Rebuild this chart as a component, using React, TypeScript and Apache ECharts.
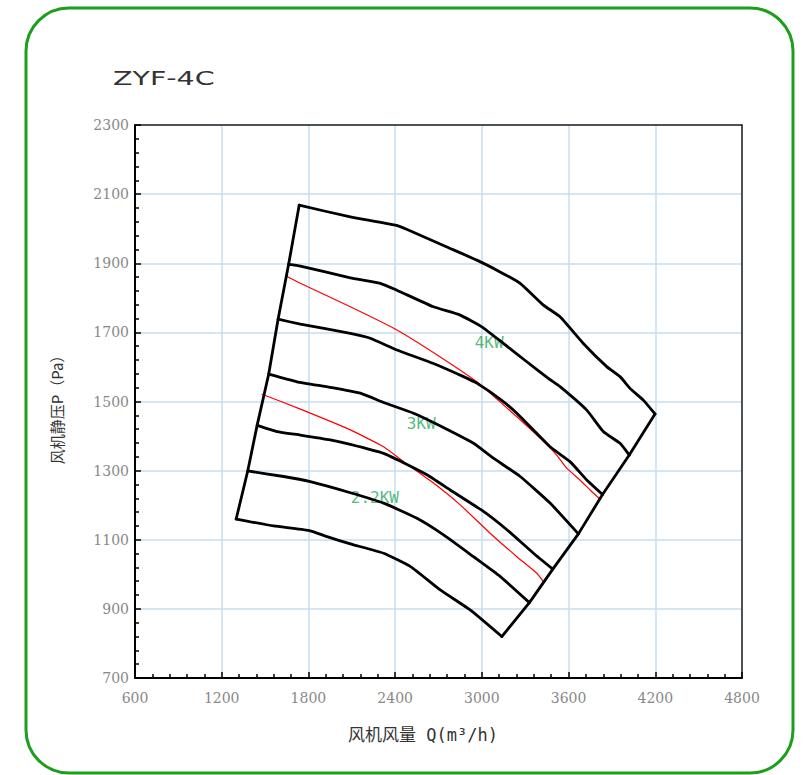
import React, { useEffect, useRef } from 'react';
import * as echarts from 'echarts';

// Axis ranges / ticks
const xMin = 600;
const xMax = 4800;
const xStep = 600;
const yMin = 700;
const yMax = 2300;
const yStep = 200;

// Black fan curves [Q (m3/h), P (Pa)], top to bottom
const curveA = [[1736,2068],[2090,2034],[2401,2010],[2491,1996],[2758,1947],[2965,1909],[3126,1875],[3265,1842],[3426,1779],[3541,1745],[3702,1668],[3864,1601],[3956,1572],[4025,1538],[4117,1504],[4198,1464]];
const curveB = [[1663,1897],[1744,1892],[2090,1858],[2297,1842],[2412,1822],[2665,1774],[2850,1750],[3000,1716],[3149,1668],[3311,1615],[3460,1567],[3541,1543],[3726,1475],[3840,1413],[3956,1379],[4020,1345]];
const curveC = [[1590,1738],[1744,1724],[2090,1697],[2228,1683],[2412,1649],[2665,1610],[2873,1572],[2965,1553],[3126,1507],[3242,1466],[3472,1369],[3610,1326],[3726,1273],[3835,1231]];
const curveD = [[1525,1579],[1721,1557],[1951,1541],[2159,1524],[2320,1497],[2527,1466],[2689,1434],[2942,1379],[3080,1336],[3265,1283],[3472,1206],[3668,1117]];
const curveE = [[1445,1431],[1583,1413],[1744,1403],[1951,1389],[2090,1376],[2320,1350],[2458,1323],[2620,1288],[2781,1244],[3011,1182],[3173,1129],[3357,1061],[3491,1015]];
const curveF = [[1380,1299],[1629,1283],[1813,1268],[2090,1236],[2320,1206],[2551,1162],[2735,1114],[2942,1051],[3126,994],[3329,918]];
const curveG = [[1300,1160],[1559,1140],[1801,1127],[1929,1109],[2090,1088],[2320,1061],[2504,1023],[2712,955],[2919,897],[3138,820]];

// Red motor power curves
const red4kw = [[1645,1863],[1744,1842],[2090,1774],[2412,1707],[2712,1629],[2965,1557],[3126,1499],[3265,1447],[3403,1394],[3518,1345],[3587,1307],[3679,1273],[3749,1244],[3811,1220]];
const red3kw = [[1479,1521],[1744,1478],[2090,1418],[2320,1369],[2458,1326],[2665,1264],[2850,1201],[3057,1119],[3242,1051],[3380,1003],[3426,979]];

// Power labels
const powerLabels = ['4KW', '3KW', '2.2KW'];
const powerLabelQ = [2947, 2477, 2090];
const powerLabelP = [1670, 1435, 1221];

const titleText = 'ZYF-4C';
const xName = '风机风量 Q(m³/h)';
const yName = '风机静压P（Pa）';

const blackCurves = [curveA, curveB, curveC, curveD, curveE, curveF, curveG];

export default function App() {
  const ref = useRef<HTMLDivElement>(null);
  useEffect(() => {
    const chart = echarts.init(ref.current!, null, { renderer: 'svg' });
    const leftEdge = blackCurves.map((c) => c[0]).reverse();
    const rightEdge = blackCurves.map((c) => c[c.length - 1]).reverse();

    const lineSeries = (data: number[][], color: string, width: number) => ({
      type: 'line',
      data,
      showSymbol: false,
      symbol: 'none',
      smooth: 0.15,
      silent: true,
      xAxisIndex: 0,
      yAxisIndex: 0,
      lineStyle: { color, width, cap: 'round', join: 'round' },
    });

    const series: any[] = [];
    series.push(lineSeries(red4kw, '#ff0000', 1.2));
    series.push(lineSeries(red3kw, '#ff0000', 1.2));
    blackCurves.forEach((c) => series.push(lineSeries(c, '#000', 2.8)));
    series.push({ ...lineSeries(leftEdge, '#000', 2.8), smooth: false });
    series.push({ ...lineSeries(rightEdge, '#000', 2.8), smooth: false });
    series.push({
      type: 'scatter',
      symbolSize: 1,
      xAxisIndex: 0,
      yAxisIndex: 0,
      itemStyle: { color: 'transparent' },
      silent: true,
      data: powerLabels.map((t, i) => ({ value: [powerLabelQ[i], powerLabelP[i]], name: t })),
      label: {
        show: true,
        position: 'right',
        distance: 0,
        formatter: (p: any) => p.name,
        color: '#27a85c',
        fontFamily: '"DejaVu Sans Mono", monospace',
        fontSize: 16,
      },
    });

    const axisCommon = {
      type: 'value',
      axisLine: { show: true, onZero: false, lineStyle: { color: '#000', width: 2 } },
      axisTick: { show: true, inside: true, length: 6, lineStyle: { color: '#000', width: 1.5 } },
      minorTick: { show: true, splitNumber: 5, length: 4, lineStyle: { color: '#000', width: 1.5 } },
      splitLine: { show: true, lineStyle: { color: '#c6dcf1', width: 1.5 } },
      minorSplitLine: { show: false },
    };
    const frameAxis = {
      type: 'value',
      axisLine: { show: true, onZero: false, lineStyle: { color: '#222', width: 1.5 } },
      axisTick: { show: false },
      axisLabel: { show: false },
      splitLine: { show: false },
    };
    const labelStyle = { color: '#888', fontFamily: '"DejaVu Serif", serif', fontSize: 14 };

    chart.setOption({
      animation: false,
      backgroundColor: '#fff',
      grid: {
        left: 135,
        top: 125,
        right: 65,
        bottom: 97,
        show: false,
      },
      xAxis: [
        {
          ...axisCommon,
          position: 'bottom',
          min: xMin,
          max: xMax,
          interval: xStep,
          axisLabel: { ...labelStyle, margin: 13, formatter: (v: number) => String(v) },
        },
        { ...frameAxis, position: 'top', min: xMin, max: xMax, interval: xStep },
      ],
      yAxis: [
        {
          ...axisCommon,
          position: 'left',
          min: yMin,
          max: yMax,
          interval: yStep,
          axisLabel: { ...labelStyle, margin: 6, formatter: (v: number) => String(v) },
        },
        { ...frameAxis, position: 'right', min: yMin, max: yMax, interval: yStep },
      ],
      graphic: [
        {
          type: 'rect',
          silent: true,
          shape: { x: 26, y: 8, width: 767, height: 765, r: 43 },
          style: { fill: 'none', stroke: '#1d9e1d', lineWidth: 3 },
          z: 100,
        },
        {
          type: 'text',
          x: 113,
          y: 79,
          scaleX: 1.5,
          style: {
            text: titleText,
            font: '19px "DejaVu Sans"',
            fill: '#333',
            verticalAlign: 'middle',
            textVerticalAlign: 'middle',
          },
        },
        {
          type: 'text',
          x: 348,
          y: 735,
          style: {
            text: xName,
            font: '17px "DejaVu Sans Mono", "Noto Sans CJK SC"',
            fill: '#333',
            verticalAlign: 'middle',
            textVerticalAlign: 'middle',
          },
        },
        {
          type: 'text',
          x: 56,
          y: 406,
          rotation: Math.PI / 2,
          style: {
            text: yName,
            font: '15px "Noto Sans CJK SC"',
            fill: '#333',
            align: 'center',
            textAlign: 'center',
            verticalAlign: 'middle',
            textVerticalAlign: 'middle',
          },
        },
      ],
      series,
    });
    return () => chart.dispose();
  }, []);
  return <div ref={ref} style={{ position: 'absolute', left: 0, top: 0, width: 807, height: 775 }} />;
}
